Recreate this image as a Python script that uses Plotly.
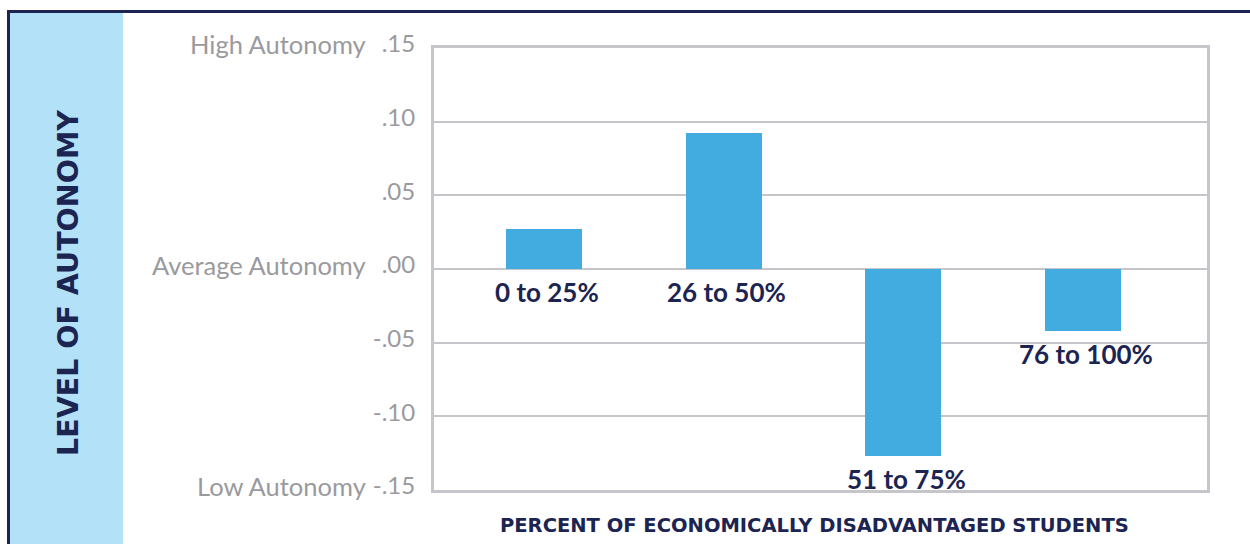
import plotly.graph_objects as go

categories = ["0 to 25%", "26 to 50%", "51 to 75%", "76 to 100%"]
values = [0.027, 0.092, -0.127, -0.042]
tick_vals = [0.15, 0.10, 0.05, 0.00, -0.05, -0.10, -0.15]
tick_text = [".15", ".10", ".05", ".00", "-.05", "-.10", "-.15"]
side_labels = {0.15: "High Autonomy", 0.00: "Average Autonomy", -0.15: "Low Autonomy"}

W, H = 1250, 544
L, R, T, B = 434, 1207, 48, 490
NAVY = "#1c2452"
GRID = "#c6c6ca"
GRAYTXT = "#9a9a9e"

def px(x):
    return (x - L) / (R - L)

def py(y):
    return (B - y) / (B - T)

fig = go.Figure()
fig.add_trace(go.Bar(
    x=categories, y=values, width=0.423,
    marker=dict(color="#42ace0", line=dict(width=0)),
    hoverinfo="skip",
))

annotations = []
for c, v in zip(categories, values):
    annotations.append(dict(
        x=c, y=min(0, v), xref="x", yref="y", text="<b>%s</b>" % c,
        showarrow=False, yanchor="middle", yshift=-23, xshift=3,
        font=dict(family="Lato", size=26, color=NAVY),
    ))
for v, t in side_labels.items():
    annotations.append(dict(
        x=0, y=v, xref="paper", yref="y", text=t, showarrow=False,
        xanchor="right", xshift=-66, yanchor="middle", yshift=4,
        font=dict(family="Lato", size=25.5, color=GRAYTXT),
    ))
annotations.append(dict(
    x=px(68), y=py(283), xref="paper", yref="paper",
    text="<b>LEVEL OF AUTONOMY</b>", textangle=-90, showarrow=False,
    xanchor="center", yanchor="middle",
    font=dict(family="DejaVu Sans", size=28.5, color=NAVY),
))
annotations.append(dict(
    x=px(814), y=py(525), xref="paper", yref="paper",
    text="<b>PERCENT OF ECONOMICALLY DISADVANTAGED STUDENTS</b>", showarrow=False,
    xanchor="center", yanchor="middle",
    font=dict(family="DejaVu Sans", size=19.5, color=NAVY),
))

shapes = [
    dict(type="rect", xref="paper", yref="paper", x0=px(9), x1=px(123), y0=py(12), y1=py(546),
         fillcolor="#b3e2f8", line=dict(width=0), layer="below"),
    dict(type="line", xref="paper", yref="paper", x0=px(7), x1=px(1252), y0=py(11.5), y1=py(11.5),
         line=dict(color=NAVY, width=3)),
    dict(type="line", xref="paper", yref="paper", x0=px(8.5), x1=px(8.5), y0=py(10), y1=py(546),
         line=dict(color=NAVY, width=3)),
]

fig.update_layout(
    width=W, height=H,
    margin=dict(l=L, r=W - R, t=T, b=H - B, pad=0),
    paper_bgcolor="white", plot_bgcolor="white",
    showlegend=False, bargap=0,
    annotations=annotations, shapes=shapes,
    xaxis=dict(range=[-0.611, 3.689], showticklabels=False, showgrid=False,
               showline=True, mirror=True, linecolor=GRID, linewidth=3,
               zeroline=False, ticks="", fixedrange=True),
    yaxis=dict(range=[-0.15, 0.15], tickvals=tick_vals, ticktext=tick_text,
               showgrid=True, gridcolor=GRID, gridwidth=2,
               zeroline=True, zerolinecolor=GRID, zerolinewidth=2,
               showline=True, mirror=True, linecolor=GRID, linewidth=3,
               ticks="", ticklabelstandoff=11, ticklabelshift=-4,
               tickfont=dict(family="Lato", size=24, color=GRAYTXT),
               fixedrange=True),
)

fig.write_html("out.html")
